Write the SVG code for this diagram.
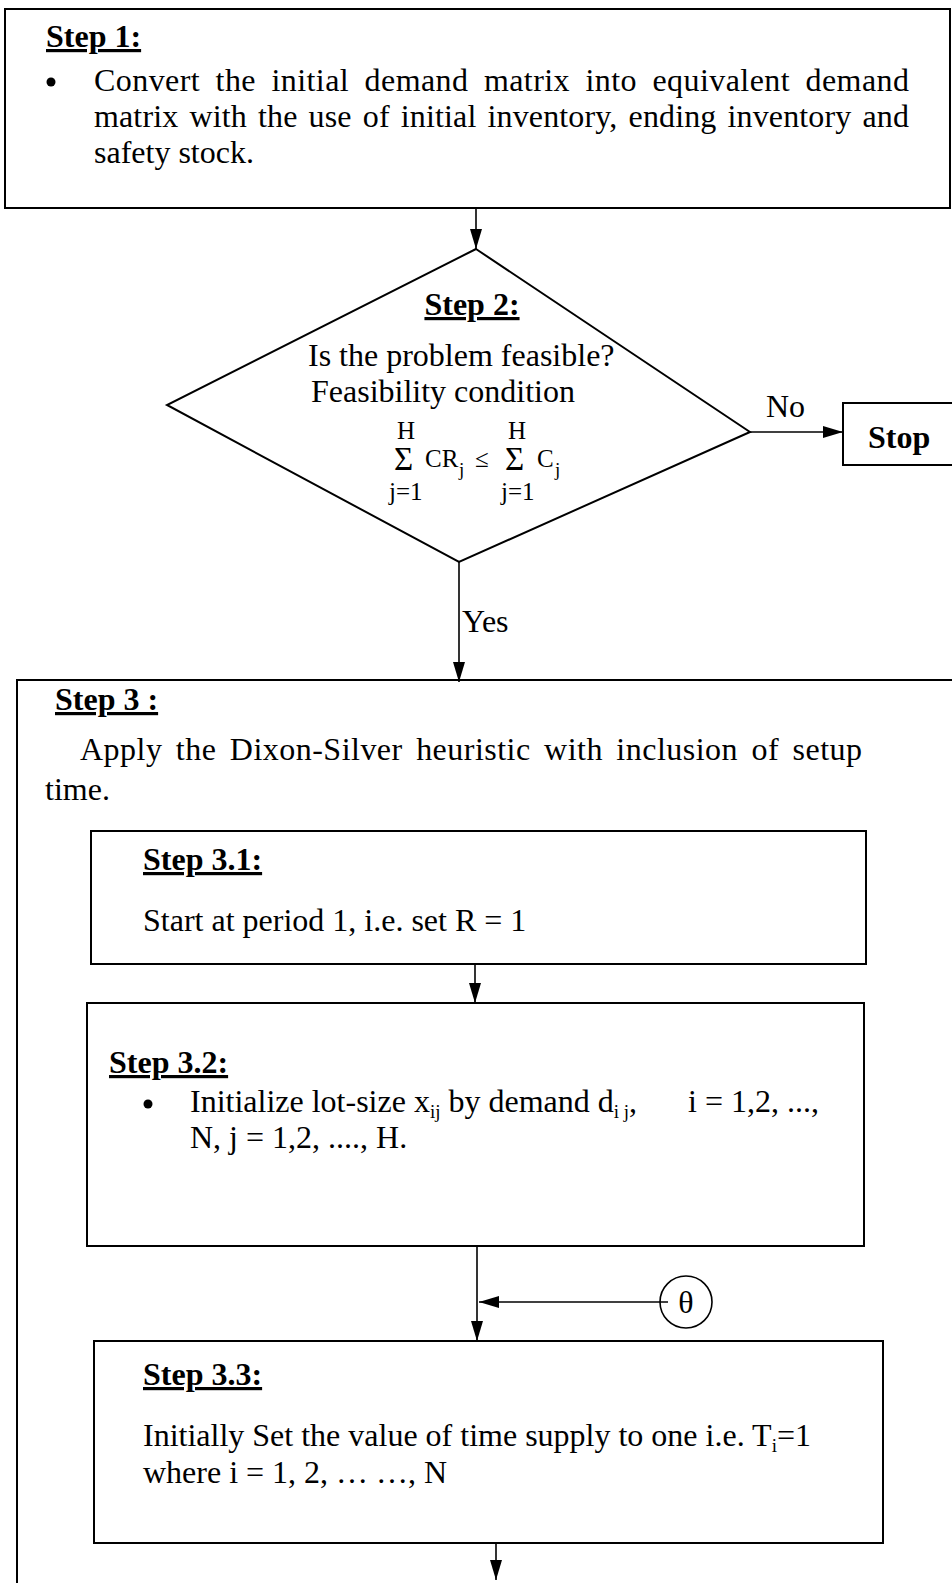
<svg xmlns="http://www.w3.org/2000/svg" width="952" height="1583" viewBox="0 0 952 1583">
<style>
.box{fill:none;stroke:#000;stroke-width:2}
.ln{fill:none;stroke:#000;stroke-width:1.6}
.t{font-family:"Liberation Serif","Times New Roman",serif;font-size:32px;fill:#000}
.h{font-family:"Liberation Serif","Times New Roman",serif;font-size:32px;font-weight:bold;text-decoration:underline;fill:#000}
.b{font-family:"Liberation Serif","Times New Roman",serif;font-size:32px;font-weight:bold;fill:#000}
.f{font-family:"Liberation Serif","Times New Roman",serif;font-size:25px;fill:#000}
.g{font-family:"Liberation Serif","Times New Roman",serif;font-size:33px;fill:#000}
.s{font-family:"Liberation Serif","Times New Roman",serif;font-size:19px;fill:#000}
</style>
<defs>
<marker id="ah" markerWidth="20" markerHeight="12" refX="20" refY="6" orient="auto" markerUnits="userSpaceOnUse">
<path d="M0,0 L20,6 L0,12 Z" fill="#000"/>
</marker>
</defs>
<rect width="952" height="1583" fill="#fff"/>

<g id="step1">
<rect class="box" x="5" y="9" width="945" height="199"/>
<text class="h" x="46" y="47">Step 1:</text>
<circle cx="51" cy="82" r="4.5" fill="#000"/>
<text class="t" x="94" y="91" textLength="815" lengthAdjust="spacing" word-spacing="7">Convert the initial demand matrix into equivalent demand</text>
<text class="t" x="94" y="127" textLength="815" lengthAdjust="spacing" word-spacing="3">matrix with the use of initial inventory, ending inventory and</text>
<text class="t" x="94" y="163">safety stock.</text>
</g>

<g id="step2">
<polygon class="box" points="476,249 750,432 459,562 167,405" stroke-width="1.6"/>
<text class="h" x="472" y="315" text-anchor="middle">Step 2:</text>
<text class="t" x="308" y="366">Is the problem feasible?</text>
<text class="t" x="311" y="402">Feasibility condition</text>
<text class="f" x="397" y="439">H</text>
<text class="g" x="394" y="470">Σ</text>
<text class="f" x="425" y="467">CR</text>
<text class="s" x="459" y="476">j</text>
<text class="f" x="475" y="467">≤</text>
<text class="f" x="508" y="439">H</text>
<text class="g" x="505" y="470">Σ</text>
<text class="f" x="537" y="467">C</text>
<text class="s" x="555" y="476">j</text>
<text class="f" x="389" y="500">j=1</text>
<text class="f" x="501" y="500">j=1</text>
</g>

<g id="stop">
<rect class="box" x="843" y="403" width="130" height="62"/>
<text class="b" x="868" y="448">Stop</text>
</g>

<g id="step3">
<path class="box" d="M17,1583 L17,680 L952,680"/>
<text class="h" x="55" y="710">Step 3 :</text>
<text class="t" x="80" y="760" textLength="782" lengthAdjust="spacing" word-spacing="5">Apply the Dixon-Silver heuristic with inclusion of setup</text>
<text class="t" x="45" y="800">time.</text>
</g>

<g id="step3_1">
<rect class="box" x="91" y="831" width="775" height="133"/>
<text class="h" x="143" y="870">Step 3.1:</text>
<text class="t" x="143" y="931">Start at period 1, i.e. set R = 1</text>
</g>

<g id="step3_2">
<rect class="box" x="87" y="1003" width="777" height="243"/>
<text class="h" x="109" y="1073">Step 3.2:</text>
<circle cx="148" cy="1104" r="4.5" fill="#000"/>
<text class="t" x="190" y="1112">Initialize lot-size x<tspan class="s" dy="6">ij</tspan><tspan dy="-6"> by demand d</tspan><tspan class="s" dy="6">i j</tspan><tspan dy="-6">,</tspan><tspan x="688">i = 1,2, ...,</tspan></text>
<text class="t" x="190" y="1148">N, j = 1,2, ...., H.</text>
</g>

<g id="theta">
<circle cx="686" cy="1302" r="26" fill="none" stroke="#000" stroke-width="1.6"/>
<text class="t" x="686" y="1313" text-anchor="middle" font-size="29">θ</text>
</g>

<g id="step3_3">
<rect class="box" x="94" y="1341" width="789" height="202"/>
<text class="h" x="143" y="1385">Step 3.3:</text>
<text class="t" x="143" y="1446">Initially Set the value of time supply to one i.e. T<tspan class="s" dy="6">i</tspan><tspan dy="-6">=1</tspan></text>
<text class="t" x="143" y="1483">where i = 1, 2, … …, N</text>
</g>

<g id="connectors">
<line class="ln" x1="476" y1="208" x2="476" y2="249" marker-end="url(#ah)"/>
<line class="ln" x1="750" y1="432" x2="843" y2="432" marker-end="url(#ah)"/>
<text class="t" x="766" y="417">No</text>
<line class="ln" x1="459" y1="562" x2="459" y2="682" marker-end="url(#ah)"/>
<text class="t" x="462" y="632">Yes</text>
<line class="ln" x1="475" y1="964" x2="475" y2="1003" marker-end="url(#ah)"/>
<line class="ln" x1="477" y1="1246" x2="477" y2="1341" marker-end="url(#ah)"/>
<line class="ln" x1="668" y1="1302" x2="479" y2="1302" marker-end="url(#ah)"/>
<line class="ln" x1="496" y1="1543" x2="496" y2="1580" marker-end="url(#ah)"/>
</g>
</svg>
